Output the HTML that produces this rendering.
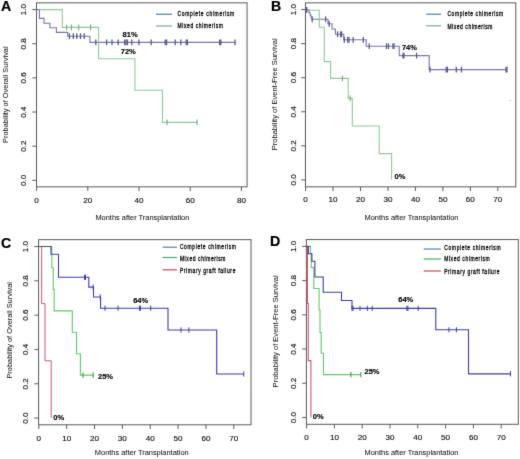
<!DOCTYPE html>
<html><head><meta charset="utf-8"><style>
html,body{margin:0;padding:0;background:#fff;}
body{width:520px;height:459px;overflow:hidden;}
svg{display:block;font-family:"Liberation Sans", sans-serif;}
</style></head><body>
<svg width="520" height="459" viewBox="0 0 520 459">
<defs><filter id="f" x="0" y="0" width="520" height="459" filterUnits="userSpaceOnUse" color-interpolation-filters="sRGB"><feConvolveMatrix order="3" kernelMatrix="0.00864 0.07567 0.00864 0.07567 0.66279 0.07567 0.00864 0.07567 0.00864" edgeMode="duplicate" preserveAlpha="false"/></filter></defs>
<g filter="url(#f)">
<rect width="520" height="459" fill="#fff"/>
<rect x="36.50" y="2.85" width="210.55" height="184.00" fill="none" stroke="#5a5a5a" stroke-width="1"/>
<line x1="32.30" y1="180.30" x2="36.50" y2="180.30" stroke="#5a5a5a" stroke-width="1.0"/>
<text x="23.70" y="180.30" font-size="8.1" text-anchor="middle" font-weight="normal" fill="#111" dominant-baseline="central" transform="rotate(-90 23.70 180.30)" stroke="#111" stroke-width="0.15">0.0</text>
<line x1="32.30" y1="146.16" x2="36.50" y2="146.16" stroke="#5a5a5a" stroke-width="1.0"/>
<text x="23.70" y="146.16" font-size="8.1" text-anchor="middle" font-weight="normal" fill="#111" dominant-baseline="central" transform="rotate(-90 23.70 146.16)" stroke="#111" stroke-width="0.15">0.2</text>
<line x1="32.30" y1="112.02" x2="36.50" y2="112.02" stroke="#5a5a5a" stroke-width="1.0"/>
<text x="23.70" y="112.02" font-size="8.1" text-anchor="middle" font-weight="normal" fill="#111" dominant-baseline="central" transform="rotate(-90 23.70 112.02)" stroke="#111" stroke-width="0.15">0.4</text>
<line x1="32.30" y1="77.88" x2="36.50" y2="77.88" stroke="#5a5a5a" stroke-width="1.0"/>
<text x="23.70" y="77.88" font-size="8.1" text-anchor="middle" font-weight="normal" fill="#111" dominant-baseline="central" transform="rotate(-90 23.70 77.88)" stroke="#111" stroke-width="0.15">0.6</text>
<line x1="32.30" y1="43.74" x2="36.50" y2="43.74" stroke="#5a5a5a" stroke-width="1.0"/>
<text x="23.70" y="43.74" font-size="8.1" text-anchor="middle" font-weight="normal" fill="#111" dominant-baseline="central" transform="rotate(-90 23.70 43.74)" stroke="#111" stroke-width="0.15">0.8</text>
<line x1="32.30" y1="9.60" x2="36.50" y2="9.60" stroke="#5a5a5a" stroke-width="1.0"/>
<text x="23.70" y="9.60" font-size="8.1" text-anchor="middle" font-weight="normal" fill="#111" dominant-baseline="central" transform="rotate(-90 23.70 9.60)" stroke="#111" stroke-width="0.15">1.0</text>
<line x1="36.60" y1="186.85" x2="36.60" y2="191.05" stroke="#5a5a5a" stroke-width="1.0"/>
<text x="36.60" y="200.00" font-size="8.1" text-anchor="middle" font-weight="normal" fill="#111" dominant-baseline="central" stroke="#111" stroke-width="0.15">0</text>
<line x1="87.80" y1="186.85" x2="87.80" y2="191.05" stroke="#5a5a5a" stroke-width="1.0"/>
<text x="87.80" y="200.00" font-size="8.1" text-anchor="middle" font-weight="normal" fill="#111" dominant-baseline="central" stroke="#111" stroke-width="0.15">20</text>
<line x1="139.00" y1="186.85" x2="139.00" y2="191.05" stroke="#5a5a5a" stroke-width="1.0"/>
<text x="139.00" y="200.00" font-size="8.1" text-anchor="middle" font-weight="normal" fill="#111" dominant-baseline="central" stroke="#111" stroke-width="0.15">40</text>
<line x1="190.20" y1="186.85" x2="190.20" y2="191.05" stroke="#5a5a5a" stroke-width="1.0"/>
<text x="190.20" y="200.00" font-size="8.1" text-anchor="middle" font-weight="normal" fill="#111" dominant-baseline="central" stroke="#111" stroke-width="0.15">60</text>
<line x1="241.40" y1="186.85" x2="241.40" y2="191.05" stroke="#5a5a5a" stroke-width="1.0"/>
<text x="241.40" y="200.00" font-size="8.1" text-anchor="middle" font-weight="normal" fill="#111" dominant-baseline="central" stroke="#111" stroke-width="0.15">80</text>
<text x="142.40" y="217.80" font-size="7.42" text-anchor="middle" font-weight="normal" fill="#111" dominant-baseline="central" stroke="#111" stroke-width="0.04">Months after Transplantation</text>
<text x="5.80" y="94.70" font-size="7.4" text-anchor="middle" font-weight="normal" fill="#111" dominant-baseline="central" transform="rotate(-90 5.80 94.70)" stroke="#111" stroke-width="0.03">Probability of Overall Survival</text>
<text x="1.00" y="6.20" font-size="14.2" text-anchor="start" font-weight="bold" fill="#000" dominant-baseline="central" stroke="#000" stroke-width="0.2">A</text>
<path d="M36.60,9.60 L39.40,9.60 L39.40,18.40 L44.00,18.40 L44.00,23.20 L49.90,23.20 L49.90,27.70 L56.40,27.70 L56.40,32.40 L67.70,32.40 L67.70,36.20 L89.90,36.20 L89.90,42.40 L235.30,42.40" fill="none" stroke="#7676b2" stroke-width="1.1" stroke-opacity="1.0" stroke-linejoin="miter" stroke-linecap="butt"/>
<line x1="69.40" y1="33.30" x2="69.40" y2="39.10" stroke="#5a5a90" stroke-width="1.3"/>
<line x1="73.30" y1="33.30" x2="73.30" y2="39.10" stroke="#5a5a90" stroke-width="1.3"/>
<line x1="76.80" y1="33.30" x2="76.80" y2="39.10" stroke="#5a5a90" stroke-width="1.3"/>
<line x1="80.50" y1="33.30" x2="80.50" y2="39.10" stroke="#5a5a90" stroke-width="1.3"/>
<line x1="84.20" y1="33.30" x2="84.20" y2="39.10" stroke="#5a5a90" stroke-width="1.3"/>
<line x1="95.80" y1="39.50" x2="95.80" y2="45.30" stroke="#5a5a90" stroke-width="1.3"/>
<line x1="106.60" y1="39.50" x2="106.60" y2="45.30" stroke="#5a5a90" stroke-width="1.3"/>
<line x1="112.00" y1="39.50" x2="112.00" y2="45.30" stroke="#5a5a90" stroke-width="1.3"/>
<line x1="118.20" y1="39.50" x2="118.20" y2="45.30" stroke="#5a5a90" stroke-width="1.3"/>
<line x1="124.60" y1="39.50" x2="124.60" y2="45.30" stroke="#5a5a90" stroke-width="1.3"/>
<line x1="126.00" y1="39.50" x2="126.00" y2="45.30" stroke="#5a5a90" stroke-width="1.3"/>
<line x1="127.40" y1="39.50" x2="127.40" y2="45.30" stroke="#5a5a90" stroke-width="1.3"/>
<line x1="131.80" y1="39.50" x2="131.80" y2="45.30" stroke="#5a5a90" stroke-width="1.3"/>
<line x1="138.90" y1="39.50" x2="138.90" y2="45.30" stroke="#5a5a90" stroke-width="1.3"/>
<line x1="151.20" y1="39.50" x2="151.20" y2="45.30" stroke="#5a5a90" stroke-width="1.3"/>
<line x1="165.20" y1="39.50" x2="165.20" y2="45.30" stroke="#5a5a90" stroke-width="1.3"/>
<line x1="166.60" y1="39.50" x2="166.60" y2="45.30" stroke="#5a5a90" stroke-width="1.3"/>
<line x1="175.20" y1="39.50" x2="175.20" y2="45.30" stroke="#5a5a90" stroke-width="1.3"/>
<line x1="180.80" y1="39.50" x2="180.80" y2="45.30" stroke="#5a5a90" stroke-width="1.3"/>
<line x1="186.20" y1="39.50" x2="186.20" y2="45.30" stroke="#5a5a90" stroke-width="1.3"/>
<line x1="187.40" y1="39.50" x2="187.40" y2="45.30" stroke="#5a5a90" stroke-width="1.3"/>
<line x1="219.60" y1="39.50" x2="219.60" y2="45.30" stroke="#5a5a90" stroke-width="1.3"/>
<line x1="220.80" y1="39.50" x2="220.80" y2="45.30" stroke="#5a5a90" stroke-width="1.3"/>
<line x1="235.00" y1="39.50" x2="235.00" y2="45.30" stroke="#5a5a90" stroke-width="1.3"/>
<path d="M39.60,9.60 L62.30,9.60 L62.30,27.40 L98.60,27.40 L98.60,58.80 L134.90,58.80 L134.90,90.30 L162.50,90.30 L162.50,122.40 L197.00,122.40" fill="none" stroke="#92c89c" stroke-width="1.1" stroke-opacity="1.0" stroke-linejoin="miter" stroke-linecap="butt"/>
<line x1="66.70" y1="24.50" x2="66.70" y2="30.30" stroke="#78a882" stroke-width="1.1"/>
<line x1="71.40" y1="24.50" x2="71.40" y2="30.30" stroke="#78a882" stroke-width="1.1"/>
<line x1="78.70" y1="24.50" x2="78.70" y2="30.30" stroke="#78a882" stroke-width="1.1"/>
<line x1="90.60" y1="24.50" x2="90.60" y2="30.30" stroke="#78a882" stroke-width="1.1"/>
<line x1="167.00" y1="119.50" x2="167.00" y2="125.30" stroke="#78a882" stroke-width="1.1"/>
<line x1="197.00" y1="119.50" x2="197.00" y2="125.30" stroke="#78a882" stroke-width="1.1"/>
<line x1="156.00" y1="14.20" x2="172.00" y2="14.20" stroke="#4a78b8" stroke-width="1.2"/>
<line x1="156.00" y1="26.00" x2="172.00" y2="26.00" stroke="#7aae8c" stroke-width="1.2"/>
<text transform="translate(177.60,13.90) scale(0.74,1)" x="0" y="0" font-size="6.7" fill="#000" stroke="#000" stroke-width="0.3" dominant-baseline="central" textLength="76.49" lengthAdjust="spacing">Complete chimerism</text>
<text transform="translate(177.60,26.20) scale(0.74,1)" x="0" y="0" font-size="6.7" fill="#000" stroke="#000" stroke-width="0.3" dominant-baseline="central" textLength="61.35" lengthAdjust="spacing">Mixed chimerism</text>
<text x="130.10" y="34.40" font-size="7.5" text-anchor="middle" font-weight="bold" fill="#000" dominant-baseline="central" stroke="#000" stroke-width="0.15">81%</text>
<text x="128.25" y="51.40" font-size="7.5" text-anchor="middle" font-weight="bold" fill="#000" dominant-baseline="central" stroke="#000" stroke-width="0.15">72%</text>
<rect x="305.45" y="2.85" width="210.35" height="184.00" fill="none" stroke="#5a5a5a" stroke-width="1"/>
<line x1="301.25" y1="179.90" x2="305.45" y2="179.90" stroke="#5a5a5a" stroke-width="1.0"/>
<text x="293.30" y="179.90" font-size="8.1" text-anchor="middle" font-weight="normal" fill="#111" dominant-baseline="central" transform="rotate(-90 293.30 179.90)" stroke="#111" stroke-width="0.15">0.0</text>
<line x1="301.25" y1="145.84" x2="305.45" y2="145.84" stroke="#5a5a5a" stroke-width="1.0"/>
<text x="293.30" y="145.84" font-size="8.1" text-anchor="middle" font-weight="normal" fill="#111" dominant-baseline="central" transform="rotate(-90 293.30 145.84)" stroke="#111" stroke-width="0.15">0.2</text>
<line x1="301.25" y1="111.78" x2="305.45" y2="111.78" stroke="#5a5a5a" stroke-width="1.0"/>
<text x="293.30" y="111.78" font-size="8.1" text-anchor="middle" font-weight="normal" fill="#111" dominant-baseline="central" transform="rotate(-90 293.30 111.78)" stroke="#111" stroke-width="0.15">0.4</text>
<line x1="301.25" y1="77.72" x2="305.45" y2="77.72" stroke="#5a5a5a" stroke-width="1.0"/>
<text x="293.30" y="77.72" font-size="8.1" text-anchor="middle" font-weight="normal" fill="#111" dominant-baseline="central" transform="rotate(-90 293.30 77.72)" stroke="#111" stroke-width="0.15">0.6</text>
<line x1="301.25" y1="43.66" x2="305.45" y2="43.66" stroke="#5a5a5a" stroke-width="1.0"/>
<text x="293.30" y="43.66" font-size="8.1" text-anchor="middle" font-weight="normal" fill="#111" dominant-baseline="central" transform="rotate(-90 293.30 43.66)" stroke="#111" stroke-width="0.15">0.8</text>
<line x1="301.25" y1="9.60" x2="305.45" y2="9.60" stroke="#5a5a5a" stroke-width="1.0"/>
<text x="293.30" y="9.60" font-size="8.1" text-anchor="middle" font-weight="normal" fill="#111" dominant-baseline="central" transform="rotate(-90 293.30 9.60)" stroke="#111" stroke-width="0.15">1.0</text>
<line x1="305.60" y1="186.85" x2="305.60" y2="191.05" stroke="#5a5a5a" stroke-width="1.0"/>
<text x="305.60" y="199.90" font-size="8.1" text-anchor="middle" font-weight="normal" fill="#111" dominant-baseline="central" stroke="#111" stroke-width="0.15">0</text>
<line x1="333.06" y1="186.85" x2="333.06" y2="191.05" stroke="#5a5a5a" stroke-width="1.0"/>
<text x="333.06" y="199.90" font-size="8.1" text-anchor="middle" font-weight="normal" fill="#111" dominant-baseline="central" stroke="#111" stroke-width="0.15">10</text>
<line x1="360.51" y1="186.85" x2="360.51" y2="191.05" stroke="#5a5a5a" stroke-width="1.0"/>
<text x="360.51" y="199.90" font-size="8.1" text-anchor="middle" font-weight="normal" fill="#111" dominant-baseline="central" stroke="#111" stroke-width="0.15">20</text>
<line x1="387.97" y1="186.85" x2="387.97" y2="191.05" stroke="#5a5a5a" stroke-width="1.0"/>
<text x="387.97" y="199.90" font-size="8.1" text-anchor="middle" font-weight="normal" fill="#111" dominant-baseline="central" stroke="#111" stroke-width="0.15">30</text>
<line x1="415.43" y1="186.85" x2="415.43" y2="191.05" stroke="#5a5a5a" stroke-width="1.0"/>
<text x="415.43" y="199.90" font-size="8.1" text-anchor="middle" font-weight="normal" fill="#111" dominant-baseline="central" stroke="#111" stroke-width="0.15">40</text>
<line x1="442.89" y1="186.85" x2="442.89" y2="191.05" stroke="#5a5a5a" stroke-width="1.0"/>
<text x="442.89" y="199.90" font-size="8.1" text-anchor="middle" font-weight="normal" fill="#111" dominant-baseline="central" stroke="#111" stroke-width="0.15">50</text>
<line x1="470.34" y1="186.85" x2="470.34" y2="191.05" stroke="#5a5a5a" stroke-width="1.0"/>
<text x="470.34" y="199.90" font-size="8.1" text-anchor="middle" font-weight="normal" fill="#111" dominant-baseline="central" stroke="#111" stroke-width="0.15">60</text>
<line x1="497.80" y1="186.85" x2="497.80" y2="191.05" stroke="#5a5a5a" stroke-width="1.0"/>
<text x="497.80" y="199.90" font-size="8.1" text-anchor="middle" font-weight="normal" fill="#111" dominant-baseline="central" stroke="#111" stroke-width="0.15">70</text>
<text x="411.50" y="217.80" font-size="7.42" text-anchor="middle" font-weight="normal" fill="#111" dominant-baseline="central" stroke="#111" stroke-width="0.04">Months after Transplantation</text>
<text x="275.00" y="94.30" font-size="7.55" text-anchor="middle" font-weight="normal" fill="#111" dominant-baseline="central" transform="rotate(-90 275.00 94.30)" stroke="#111" stroke-width="0.03">Probability of Event-Free Survival</text>
<text x="271.00" y="6.20" font-size="14.2" text-anchor="start" font-weight="bold" fill="#000" dominant-baseline="central" stroke="#000" stroke-width="0.2">B</text>
<path d="M305.40,9.90 L309.00,9.90 L309.00,12.60 L310.00,12.60 L310.00,15.00 L311.00,15.00 L311.00,17.00 L311.80,17.00 L311.80,19.30 L328.00,19.30 L328.00,23.80 L332.00,23.80 L332.00,29.00 L335.40,29.00 L335.40,34.30 L343.80,34.30 L343.80,39.80 L366.20,39.80 L366.20,46.20 L399.20,46.20 L399.20,55.60 L429.20,55.60 L429.20,69.60 L506.50,69.60" fill="none" stroke="#7676b2" stroke-width="1.1" stroke-opacity="1.0" stroke-linejoin="miter" stroke-linecap="butt"/>
<line x1="306.00" y1="7.00" x2="306.00" y2="12.80" stroke="#5a5a90" stroke-width="1.3"/>
<line x1="306.80" y1="7.00" x2="306.80" y2="12.80" stroke="#5a5a90" stroke-width="1.3"/>
<line x1="312.20" y1="16.40" x2="312.20" y2="22.20" stroke="#5a5a90" stroke-width="1.3"/>
<line x1="325.60" y1="16.40" x2="325.60" y2="22.20" stroke="#5a5a90" stroke-width="1.3"/>
<line x1="329.20" y1="20.90" x2="329.20" y2="26.70" stroke="#5a5a90" stroke-width="1.3"/>
<line x1="337.60" y1="31.40" x2="337.60" y2="37.20" stroke="#5a5a90" stroke-width="1.3"/>
<line x1="340.60" y1="31.40" x2="340.60" y2="37.20" stroke="#5a5a90" stroke-width="1.3"/>
<line x1="341.60" y1="31.40" x2="341.60" y2="37.20" stroke="#5a5a90" stroke-width="1.3"/>
<line x1="344.30" y1="36.90" x2="344.30" y2="42.70" stroke="#5a5a90" stroke-width="1.3"/>
<line x1="347.60" y1="36.90" x2="347.60" y2="42.70" stroke="#5a5a90" stroke-width="1.3"/>
<line x1="349.00" y1="36.90" x2="349.00" y2="42.70" stroke="#5a5a90" stroke-width="1.3"/>
<line x1="353.20" y1="36.90" x2="353.20" y2="42.70" stroke="#5a5a90" stroke-width="1.3"/>
<line x1="363.30" y1="36.90" x2="363.30" y2="42.70" stroke="#5a5a90" stroke-width="1.3"/>
<line x1="369.20" y1="43.30" x2="369.20" y2="49.10" stroke="#5a5a90" stroke-width="1.3"/>
<line x1="386.50" y1="43.30" x2="386.50" y2="49.10" stroke="#5a5a90" stroke-width="1.3"/>
<line x1="388.50" y1="43.30" x2="388.50" y2="49.10" stroke="#5a5a90" stroke-width="1.3"/>
<line x1="393.00" y1="43.30" x2="393.00" y2="49.10" stroke="#5a5a90" stroke-width="1.3"/>
<line x1="394.00" y1="43.30" x2="394.00" y2="49.10" stroke="#5a5a90" stroke-width="1.3"/>
<line x1="403.00" y1="52.70" x2="403.00" y2="58.50" stroke="#5a5a90" stroke-width="1.3"/>
<line x1="404.00" y1="52.70" x2="404.00" y2="58.50" stroke="#5a5a90" stroke-width="1.3"/>
<line x1="416.60" y1="52.70" x2="416.60" y2="58.50" stroke="#5a5a90" stroke-width="1.3"/>
<line x1="430.00" y1="66.70" x2="430.00" y2="72.50" stroke="#5a5a90" stroke-width="1.3"/>
<line x1="446.20" y1="66.70" x2="446.20" y2="72.50" stroke="#5a5a90" stroke-width="1.3"/>
<line x1="447.40" y1="66.70" x2="447.40" y2="72.50" stroke="#5a5a90" stroke-width="1.3"/>
<line x1="456.30" y1="66.70" x2="456.30" y2="72.50" stroke="#5a5a90" stroke-width="1.3"/>
<line x1="461.50" y1="66.70" x2="461.50" y2="72.50" stroke="#5a5a90" stroke-width="1.3"/>
<line x1="506.00" y1="66.70" x2="506.00" y2="72.50" stroke="#5a5a90" stroke-width="1.3"/>
<line x1="507.00" y1="66.70" x2="507.00" y2="72.50" stroke="#5a5a90" stroke-width="1.3"/>
<path d="M308.80,10.30 L319.30,10.30 L319.30,27.30 L324.30,27.30 L324.30,61.60 L330.60,61.60 L330.60,78.40 L348.20,78.40 L348.20,98.40 L352.30,98.40 L352.30,126.00 L379.20,126.00 L379.20,153.60 L391.60,153.60 L391.60,179.40" fill="none" stroke="#92c89c" stroke-width="1.1" stroke-opacity="1.0" stroke-linejoin="miter" stroke-linecap="butt"/>
<line x1="342.40" y1="75.50" x2="342.40" y2="81.30" stroke="#78a882" stroke-width="1.1"/>
<line x1="350.20" y1="95.50" x2="350.20" y2="101.30" stroke="#78a882" stroke-width="1.1"/>
<line x1="426.10" y1="14.20" x2="441.10" y2="14.20" stroke="#4a78b8" stroke-width="1.2"/>
<line x1="426.10" y1="25.80" x2="441.10" y2="25.80" stroke="#7aae8c" stroke-width="1.2"/>
<text transform="translate(447.40,14.20) scale(0.74,1)" x="0" y="0" font-size="6.7" fill="#000" stroke="#000" stroke-width="0.3" dominant-baseline="central" textLength="75.27" lengthAdjust="spacing">Complete chimerism</text>
<text transform="translate(447.40,26.40) scale(0.74,1)" x="0" y="0" font-size="6.7" fill="#000" stroke="#000" stroke-width="0.3" dominant-baseline="central" textLength="60.81" lengthAdjust="spacing">Mixed chimerism</text>
<text x="409.40" y="47.90" font-size="7.5" text-anchor="middle" font-weight="bold" fill="#000" dominant-baseline="central" stroke="#000" stroke-width="0.15">74%</text>
<circle cx="510.3" cy="100.6" r="0.7" fill="#b4b4b4"/>
<text x="400.00" y="176.00" font-size="7.5" text-anchor="middle" font-weight="bold" fill="#000" dominant-baseline="central" stroke="#000" stroke-width="0.15">0%</text>
<rect x="38.60" y="239.65" width="212.40" height="185.15" fill="none" stroke="#5a5a5a" stroke-width="1"/>
<line x1="34.40" y1="418.10" x2="38.60" y2="418.10" stroke="#5a5a5a" stroke-width="1.0"/>
<text x="25.80" y="418.10" font-size="8.1" text-anchor="middle" font-weight="normal" fill="#111" dominant-baseline="central" transform="rotate(-90 25.80 418.10)" stroke="#111" stroke-width="0.15">0.0</text>
<line x1="34.40" y1="383.78" x2="38.60" y2="383.78" stroke="#5a5a5a" stroke-width="1.0"/>
<text x="25.80" y="383.78" font-size="8.1" text-anchor="middle" font-weight="normal" fill="#111" dominant-baseline="central" transform="rotate(-90 25.80 383.78)" stroke="#111" stroke-width="0.15">0.2</text>
<line x1="34.40" y1="349.46" x2="38.60" y2="349.46" stroke="#5a5a5a" stroke-width="1.0"/>
<text x="25.80" y="349.46" font-size="8.1" text-anchor="middle" font-weight="normal" fill="#111" dominant-baseline="central" transform="rotate(-90 25.80 349.46)" stroke="#111" stroke-width="0.15">0.4</text>
<line x1="34.40" y1="315.14" x2="38.60" y2="315.14" stroke="#5a5a5a" stroke-width="1.0"/>
<text x="25.80" y="315.14" font-size="8.1" text-anchor="middle" font-weight="normal" fill="#111" dominant-baseline="central" transform="rotate(-90 25.80 315.14)" stroke="#111" stroke-width="0.15">0.6</text>
<line x1="34.40" y1="280.82" x2="38.60" y2="280.82" stroke="#5a5a5a" stroke-width="1.0"/>
<text x="25.80" y="280.82" font-size="8.1" text-anchor="middle" font-weight="normal" fill="#111" dominant-baseline="central" transform="rotate(-90 25.80 280.82)" stroke="#111" stroke-width="0.15">0.8</text>
<line x1="34.40" y1="246.50" x2="38.60" y2="246.50" stroke="#5a5a5a" stroke-width="1.0"/>
<text x="25.80" y="246.50" font-size="8.1" text-anchor="middle" font-weight="normal" fill="#111" dominant-baseline="central" transform="rotate(-90 25.80 246.50)" stroke="#111" stroke-width="0.15">1.0</text>
<line x1="38.80" y1="424.80" x2="38.80" y2="429.00" stroke="#5a5a5a" stroke-width="1.0"/>
<text x="38.80" y="438.00" font-size="8.1" text-anchor="middle" font-weight="normal" fill="#111" dominant-baseline="central" stroke="#111" stroke-width="0.15">0</text>
<line x1="66.66" y1="424.80" x2="66.66" y2="429.00" stroke="#5a5a5a" stroke-width="1.0"/>
<text x="66.66" y="438.00" font-size="8.1" text-anchor="middle" font-weight="normal" fill="#111" dominant-baseline="central" stroke="#111" stroke-width="0.15">10</text>
<line x1="94.51" y1="424.80" x2="94.51" y2="429.00" stroke="#5a5a5a" stroke-width="1.0"/>
<text x="94.51" y="438.00" font-size="8.1" text-anchor="middle" font-weight="normal" fill="#111" dominant-baseline="central" stroke="#111" stroke-width="0.15">20</text>
<line x1="122.37" y1="424.80" x2="122.37" y2="429.00" stroke="#5a5a5a" stroke-width="1.0"/>
<text x="122.37" y="438.00" font-size="8.1" text-anchor="middle" font-weight="normal" fill="#111" dominant-baseline="central" stroke="#111" stroke-width="0.15">30</text>
<line x1="150.23" y1="424.80" x2="150.23" y2="429.00" stroke="#5a5a5a" stroke-width="1.0"/>
<text x="150.23" y="438.00" font-size="8.1" text-anchor="middle" font-weight="normal" fill="#111" dominant-baseline="central" stroke="#111" stroke-width="0.15">40</text>
<line x1="178.09" y1="424.80" x2="178.09" y2="429.00" stroke="#5a5a5a" stroke-width="1.0"/>
<text x="178.09" y="438.00" font-size="8.1" text-anchor="middle" font-weight="normal" fill="#111" dominant-baseline="central" stroke="#111" stroke-width="0.15">50</text>
<line x1="205.94" y1="424.80" x2="205.94" y2="429.00" stroke="#5a5a5a" stroke-width="1.0"/>
<text x="205.94" y="438.00" font-size="8.1" text-anchor="middle" font-weight="normal" fill="#111" dominant-baseline="central" stroke="#111" stroke-width="0.15">60</text>
<line x1="233.80" y1="424.80" x2="233.80" y2="429.00" stroke="#5a5a5a" stroke-width="1.0"/>
<text x="233.80" y="438.00" font-size="8.1" text-anchor="middle" font-weight="normal" fill="#111" dominant-baseline="central" stroke="#111" stroke-width="0.15">70</text>
<text x="141.80" y="452.60" font-size="7.42" text-anchor="middle" font-weight="normal" fill="#111" dominant-baseline="central" stroke="#111" stroke-width="0.04">Months after Transplantation</text>
<text x="9.90" y="330.30" font-size="7.4" text-anchor="middle" font-weight="normal" fill="#111" dominant-baseline="central" transform="rotate(-90 9.90 330.30)" stroke="#111" stroke-width="0.03">Probability of Overall Survival</text>
<text x="1.00" y="242.60" font-size="14.2" text-anchor="start" font-weight="bold" fill="#000" dominant-baseline="central" stroke="#000" stroke-width="0.2">C</text>
<path d="M38.70,246.50 L41.60,246.50 L41.60,303.60 L45.00,303.60 L45.00,360.80 L51.20,360.80 L51.20,418.00" fill="none" stroke="#d05474" stroke-width="1.0" stroke-opacity="1.0" stroke-linejoin="miter" stroke-linecap="butt"/>
<path d="M44.00,246.50 L51.80,246.50 L51.80,267.80 L53.30,267.80 L53.30,289.40 L54.20,289.40 L54.20,310.90 L72.30,310.90 L72.30,332.30 L76.50,332.30 L76.50,353.70 L80.40,353.70 L80.40,375.10 L93.20,375.10" fill="none" stroke="#5ccc64" stroke-width="1.1" stroke-opacity="1.0" stroke-linejoin="miter" stroke-linecap="butt"/>
<line x1="83.00" y1="372.50" x2="83.00" y2="377.70" stroke="#3c9c48" stroke-width="1.1"/>
<line x1="93.20" y1="372.50" x2="93.20" y2="377.70" stroke="#3c9c48" stroke-width="1.1"/>
<path d="M38.70,246.50 L51.00,246.50 L51.00,254.20 L58.50,254.20 L58.50,277.30 L88.80,277.30 L88.80,287.10 L93.50,287.10 L93.50,297.00 L100.60,297.00 L100.60,308.20 L168.00,308.20 L168.00,330.00 L216.70,330.00 L216.70,374.00 L243.80,374.00" fill="none" stroke="#3c3cb6" stroke-width="1.1" stroke-opacity="1.0" stroke-linejoin="miter" stroke-linecap="butt"/>
<line x1="84.50" y1="274.70" x2="84.50" y2="279.90" stroke="#3c3cb6" stroke-width="1.0"/>
<line x1="85.50" y1="274.70" x2="85.50" y2="279.90" stroke="#3c3cb6" stroke-width="1.0"/>
<line x1="93.10" y1="284.50" x2="93.10" y2="289.70" stroke="#3c3cb6" stroke-width="1.0"/>
<line x1="100.20" y1="294.40" x2="100.20" y2="299.60" stroke="#3c3cb6" stroke-width="1.0"/>
<line x1="105.00" y1="305.60" x2="105.00" y2="310.80" stroke="#3c3cb6" stroke-width="1.0"/>
<line x1="118.00" y1="305.60" x2="118.00" y2="310.80" stroke="#3c3cb6" stroke-width="1.0"/>
<line x1="139.40" y1="305.60" x2="139.40" y2="310.80" stroke="#3c3cb6" stroke-width="1.0"/>
<line x1="140.40" y1="305.60" x2="140.40" y2="310.80" stroke="#3c3cb6" stroke-width="1.0"/>
<line x1="150.70" y1="305.60" x2="150.70" y2="310.80" stroke="#3c3cb6" stroke-width="1.0"/>
<line x1="181.00" y1="327.40" x2="181.00" y2="332.60" stroke="#3c3cb6" stroke-width="1.0"/>
<line x1="188.90" y1="327.40" x2="188.90" y2="332.60" stroke="#3c3cb6" stroke-width="1.0"/>
<line x1="243.80" y1="371.40" x2="243.80" y2="376.60" stroke="#3c3cb6" stroke-width="1.0"/>
<line x1="38.70" y1="246.50" x2="51.00" y2="246.50" stroke="#4c5a6a" stroke-width="1.1"/>
<line x1="162.60" y1="247.20" x2="177.00" y2="247.20" stroke="#5580b0" stroke-width="1.2"/>
<line x1="162.60" y1="257.50" x2="177.00" y2="257.50" stroke="#40ae78" stroke-width="1.2"/>
<line x1="162.60" y1="269.80" x2="177.00" y2="269.80" stroke="#d04858" stroke-width="1.2"/>
<text transform="translate(179.90,246.90) scale(0.74,1)" x="0" y="0" font-size="6.7" fill="#000" stroke="#000" stroke-width="0.3" dominant-baseline="central" textLength="75.68" lengthAdjust="spacing">Complete chimerism</text>
<text transform="translate(179.90,258.30) scale(0.74,1)" x="0" y="0" font-size="6.7" fill="#000" stroke="#000" stroke-width="0.3" dominant-baseline="central" textLength="61.62" lengthAdjust="spacing">Mixed chimerism</text>
<text transform="translate(179.90,271.00) scale(0.74,1)" x="0" y="0" font-size="6.7" fill="#000" stroke="#000" stroke-width="0.3" dominant-baseline="central" textLength="75.00" lengthAdjust="spacing">Primary graft failure</text>
<text x="140.70" y="300.30" font-size="7.5" text-anchor="middle" font-weight="bold" fill="#000" dominant-baseline="central" stroke="#000" stroke-width="0.15">64%</text>
<text x="105.50" y="376.10" font-size="7.5" text-anchor="middle" font-weight="bold" fill="#000" dominant-baseline="central" stroke="#000" stroke-width="0.15">25%</text>
<text x="58.70" y="417.50" font-size="7.5" text-anchor="middle" font-weight="bold" fill="#000" dominant-baseline="central" stroke="#000" stroke-width="0.15">0%</text>
<rect x="306.40" y="239.55" width="211.95" height="184.75" fill="none" stroke="#5a5a5a" stroke-width="1"/>
<line x1="302.20" y1="417.50" x2="306.40" y2="417.50" stroke="#5a5a5a" stroke-width="1.0"/>
<text x="293.50" y="417.50" font-size="8.1" text-anchor="middle" font-weight="normal" fill="#111" dominant-baseline="central" transform="rotate(-90 293.50 417.50)" stroke="#111" stroke-width="0.15">0.0</text>
<line x1="302.20" y1="383.28" x2="306.40" y2="383.28" stroke="#5a5a5a" stroke-width="1.0"/>
<text x="293.50" y="383.28" font-size="8.1" text-anchor="middle" font-weight="normal" fill="#111" dominant-baseline="central" transform="rotate(-90 293.50 383.28)" stroke="#111" stroke-width="0.15">0.2</text>
<line x1="302.20" y1="349.06" x2="306.40" y2="349.06" stroke="#5a5a5a" stroke-width="1.0"/>
<text x="293.50" y="349.06" font-size="8.1" text-anchor="middle" font-weight="normal" fill="#111" dominant-baseline="central" transform="rotate(-90 293.50 349.06)" stroke="#111" stroke-width="0.15">0.4</text>
<line x1="302.20" y1="314.84" x2="306.40" y2="314.84" stroke="#5a5a5a" stroke-width="1.0"/>
<text x="293.50" y="314.84" font-size="8.1" text-anchor="middle" font-weight="normal" fill="#111" dominant-baseline="central" transform="rotate(-90 293.50 314.84)" stroke="#111" stroke-width="0.15">0.6</text>
<line x1="302.20" y1="280.62" x2="306.40" y2="280.62" stroke="#5a5a5a" stroke-width="1.0"/>
<text x="293.50" y="280.62" font-size="8.1" text-anchor="middle" font-weight="normal" fill="#111" dominant-baseline="central" transform="rotate(-90 293.50 280.62)" stroke="#111" stroke-width="0.15">0.8</text>
<line x1="302.20" y1="246.40" x2="306.40" y2="246.40" stroke="#5a5a5a" stroke-width="1.0"/>
<text x="293.50" y="246.40" font-size="8.1" text-anchor="middle" font-weight="normal" fill="#111" dominant-baseline="central" transform="rotate(-90 293.50 246.40)" stroke="#111" stroke-width="0.15">1.0</text>
<line x1="306.60" y1="424.30" x2="306.60" y2="428.50" stroke="#5a5a5a" stroke-width="1.0"/>
<text x="306.60" y="437.40" font-size="8.1" text-anchor="middle" font-weight="normal" fill="#111" dominant-baseline="central" stroke="#111" stroke-width="0.15">0</text>
<line x1="334.40" y1="424.30" x2="334.40" y2="428.50" stroke="#5a5a5a" stroke-width="1.0"/>
<text x="334.40" y="437.40" font-size="8.1" text-anchor="middle" font-weight="normal" fill="#111" dominant-baseline="central" stroke="#111" stroke-width="0.15">10</text>
<line x1="362.20" y1="424.30" x2="362.20" y2="428.50" stroke="#5a5a5a" stroke-width="1.0"/>
<text x="362.20" y="437.40" font-size="8.1" text-anchor="middle" font-weight="normal" fill="#111" dominant-baseline="central" stroke="#111" stroke-width="0.15">20</text>
<line x1="390.00" y1="424.30" x2="390.00" y2="428.50" stroke="#5a5a5a" stroke-width="1.0"/>
<text x="390.00" y="437.40" font-size="8.1" text-anchor="middle" font-weight="normal" fill="#111" dominant-baseline="central" stroke="#111" stroke-width="0.15">30</text>
<line x1="417.80" y1="424.30" x2="417.80" y2="428.50" stroke="#5a5a5a" stroke-width="1.0"/>
<text x="417.80" y="437.40" font-size="8.1" text-anchor="middle" font-weight="normal" fill="#111" dominant-baseline="central" stroke="#111" stroke-width="0.15">40</text>
<line x1="445.60" y1="424.30" x2="445.60" y2="428.50" stroke="#5a5a5a" stroke-width="1.0"/>
<text x="445.60" y="437.40" font-size="8.1" text-anchor="middle" font-weight="normal" fill="#111" dominant-baseline="central" stroke="#111" stroke-width="0.15">50</text>
<line x1="473.40" y1="424.30" x2="473.40" y2="428.50" stroke="#5a5a5a" stroke-width="1.0"/>
<text x="473.40" y="437.40" font-size="8.1" text-anchor="middle" font-weight="normal" fill="#111" dominant-baseline="central" stroke="#111" stroke-width="0.15">60</text>
<line x1="501.20" y1="424.30" x2="501.20" y2="428.50" stroke="#5a5a5a" stroke-width="1.0"/>
<text x="501.20" y="437.40" font-size="8.1" text-anchor="middle" font-weight="normal" fill="#111" dominant-baseline="central" stroke="#111" stroke-width="0.15">70</text>
<text x="411.50" y="452.60" font-size="7.42" text-anchor="middle" font-weight="normal" fill="#111" dominant-baseline="central" stroke="#111" stroke-width="0.04">Months after Transplantation</text>
<text x="275.80" y="331.40" font-size="7.55" text-anchor="middle" font-weight="normal" fill="#111" dominant-baseline="central" transform="rotate(-90 275.80 331.40)" stroke="#111" stroke-width="0.03">Probability of Event-Free Survival</text>
<text x="270.00" y="241.20" font-size="14.2" text-anchor="start" font-weight="bold" fill="#000" dominant-baseline="central" stroke="#000" stroke-width="0.2">D</text>
<path d="M306.40,246.40 L307.20,246.40 L307.20,303.50 L308.30,303.50 L308.30,360.60 L310.90,360.60 L310.90,417.30" fill="none" stroke="#d05474" stroke-width="1.1" stroke-opacity="1.0" stroke-linejoin="miter" stroke-linecap="butt"/>
<line x1="307.10" y1="247.00" x2="307.10" y2="303.50" stroke="#b85a62" stroke-width="1.5"/>
<path d="M306.20,246.50 L310.50,246.50 L310.50,254.00 L311.20,254.00 L311.20,267.50 L313.80,267.50 L313.80,288.50 L319.10,288.50 L319.10,310.00 L320.00,310.00 L320.00,332.50 L321.20,332.50 L321.20,353.30 L323.50,353.30 L323.50,374.60 L360.80,374.60" fill="none" stroke="#5ccc64" stroke-width="1.1" stroke-opacity="1.0" stroke-linejoin="miter" stroke-linecap="butt"/>
<line x1="350.90" y1="372.00" x2="350.90" y2="377.20" stroke="#3c9c48" stroke-width="1.1"/>
<line x1="360.80" y1="372.00" x2="360.80" y2="377.20" stroke="#3c9c48" stroke-width="1.1"/>
<path d="M306.20,246.50 L308.40,246.50 L308.40,253.70 L311.90,253.70 L311.90,261.30 L314.90,261.30 L314.90,277.00 L323.20,277.00 L323.20,292.30 L341.50,292.30 L341.50,300.50 L352.00,300.50 L352.00,308.40 L435.80,308.40 L435.80,329.80 L468.50,329.80 L468.50,373.90 L511.00,373.90" fill="none" stroke="#3c3cb6" stroke-width="1.1" stroke-opacity="1.0" stroke-linejoin="miter" stroke-linecap="butt"/>
<line x1="352.00" y1="305.80" x2="352.00" y2="311.00" stroke="#3c3cb6" stroke-width="1.0"/>
<line x1="353.00" y1="305.80" x2="353.00" y2="311.00" stroke="#3c3cb6" stroke-width="1.0"/>
<line x1="360.00" y1="305.80" x2="360.00" y2="311.00" stroke="#3c3cb6" stroke-width="1.0"/>
<line x1="367.30" y1="305.80" x2="367.30" y2="311.00" stroke="#3c3cb6" stroke-width="1.0"/>
<line x1="372.20" y1="305.80" x2="372.20" y2="311.00" stroke="#3c3cb6" stroke-width="1.0"/>
<line x1="406.90" y1="305.80" x2="406.90" y2="311.00" stroke="#3c3cb6" stroke-width="1.0"/>
<line x1="407.90" y1="305.80" x2="407.90" y2="311.00" stroke="#3c3cb6" stroke-width="1.0"/>
<line x1="418.20" y1="305.80" x2="418.20" y2="311.00" stroke="#3c3cb6" stroke-width="1.0"/>
<line x1="448.90" y1="327.20" x2="448.90" y2="332.40" stroke="#3c3cb6" stroke-width="1.0"/>
<line x1="456.40" y1="327.20" x2="456.40" y2="332.40" stroke="#3c3cb6" stroke-width="1.0"/>
<line x1="510.50" y1="371.20" x2="510.50" y2="376.40" stroke="#3c3cb6" stroke-width="1.0"/>
<line x1="306.40" y1="246.40" x2="310.40" y2="246.40" stroke="#4c5a6a" stroke-width="1.1"/>
<line x1="423.70" y1="249.00" x2="440.90" y2="249.00" stroke="#5580b0" stroke-width="1.2"/>
<line x1="423.70" y1="259.00" x2="440.90" y2="259.00" stroke="#40ae78" stroke-width="1.2"/>
<line x1="423.70" y1="271.00" x2="440.90" y2="271.00" stroke="#d04858" stroke-width="1.2"/>
<text transform="translate(444.20,247.80) scale(0.74,1)" x="0" y="0" font-size="6.7" fill="#000" stroke="#000" stroke-width="0.3" dominant-baseline="central" textLength="76.22" lengthAdjust="spacing">Complete chimerism</text>
<text transform="translate(444.20,259.20) scale(0.74,1)" x="0" y="0" font-size="6.7" fill="#000" stroke="#000" stroke-width="0.3" dominant-baseline="central" textLength="61.35" lengthAdjust="spacing">Mixed chimerism</text>
<text transform="translate(444.20,271.40) scale(0.74,1)" x="0" y="0" font-size="6.7" fill="#000" stroke="#000" stroke-width="0.3" dominant-baseline="central" textLength="74.73" lengthAdjust="spacing">Primary graft failure</text>
<text x="405.75" y="299.70" font-size="7.5" text-anchor="middle" font-weight="bold" fill="#000" dominant-baseline="central" stroke="#000" stroke-width="0.15">64%</text>
<text x="372.05" y="371.60" font-size="7.5" text-anchor="middle" font-weight="bold" fill="#000" dominant-baseline="central" stroke="#000" stroke-width="0.15">25%</text>
<text x="318.20" y="416.70" font-size="7.5" text-anchor="middle" font-weight="bold" fill="#000" dominant-baseline="central" stroke="#000" stroke-width="0.15">0%</text>
</g>
</svg>
</body></html>
